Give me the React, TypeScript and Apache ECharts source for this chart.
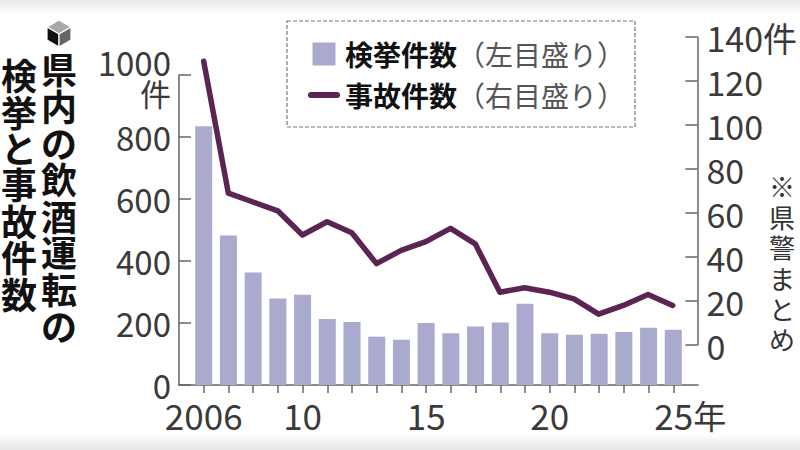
import React, { useEffect, useRef } from "react";
import * as echarts from "echarts";

const YEARS = [2006, 2007, 2008, 2009, 2010, 2011, 2012, 2013, 2014, 2015, 2016, 2017, 2018, 2019, 2020, 2021, 2022, 2023, 2024, 2025];
const ARRESTS = [835, 482, 363, 279, 291, 213, 203, 156, 146, 200, 167, 189, 202, 262, 167, 162, 165, 171, 185, 178];
const ACCIDENTS = [129, 69, 65, 61, 50, 56, 51, 37, 43, 47, 53, 46, 24, 26, 24, 21, 14, 18, 23, 18];
const X_LABEL_YEARS = [2006, 2010, 2015, 2020, 2025];
const SERIES_NAMES = ["検挙件数", "事故件数"];
const LEGEND_NOTES = ["（左目盛り）", "（右目盛り）"];
const TITLE_COL1 = "県内の飲酒運転の";
const TITLE_COL2 = "検挙と事故件数";
const NOTE = "※県警まとめ";
const UNIT = "件";
const YEAR_UNIT = "年";

const FONT = "'Noto Sans CJK JP', 'Noto Sans CJK SC', sans-serif";
const BAR_COLOR = "#a9aacd";
const LINE_COLOR = "#5b2452";
const AXIS_COLOR = "#666";
const LABEL_COLOR = "#3a3a3a";

const vertical = (s: string) => s.split("").join("\n");

export default function App() {
  const ref = useRef<HTMLDivElement>(null);
  useEffect(() => {
    if (!ref.current) return;
    const chart = echarts.init(ref.current, undefined, { renderer: "svg" });
    const xLabel = (v: number) => {
      if (v === 2006) return "2006";
      if (v === 2025) return `{p| }{n|25}{y|${YEAR_UNIT}}`;
      return String(v % 100);
    };
    const option: any = {
      animation: false,
      backgroundColor: "#fff",
      textStyle: { fontFamily: FONT },
      grid: [
        { left: 179, right: 102, top: 75, bottom: 65 },
        { left: 179, right: 102, top: 37, bottom: 105 },
      ],
      xAxis: [
        {
          type: "value",
          gridIndex: 0,
          min: 2005,
          max: 2026,
          interval: 1,
          axisLine: { show: true, lineStyle: { color: AXIS_COLOR, width: 1.5 } },
          axisTick: { show: true, length: 8, lineStyle: { color: AXIS_COLOR, width: 1.5 }, customValues: YEARS },
          splitLine: { show: false },
          axisLabel: {
            customValues: X_LABEL_YEARS,
            formatter: xLabel,
            fontSize: 35,
            fontFamily: FONT,
            color: LABEL_COLOR,
            margin: 12,
            rich: {
              p: { width: 34, fontSize: 35 },
              n: { fontSize: 35, fontFamily: FONT, color: LABEL_COLOR },
              y: { fontSize: 33, fontFamily: FONT, color: LABEL_COLOR },
            },
          },
        },
        {
          type: "value",
          gridIndex: 1,
          min: 2005,
          max: 2026,
          interval: 1,
          show: false,
        },
      ],
      yAxis: [
        {
          type: "value",
          gridIndex: 0,
          position: "left",
          min: 0,
          max: 1000,
          interval: 200,
          axisLine: { show: true, lineStyle: { color: AXIS_COLOR, width: 1.5 } },
          axisTick: { show: true, inside: true, length: 12, lineStyle: { color: AXIS_COLOR, width: 1.5 } },
          splitLine: { show: false },
          axisLabel: {
            fontSize: 33,
            fontFamily: FONT,
            color: LABEL_COLOR,
            margin: 8,
            formatter: (v: number) => (v === 1000 ? `{a|1000}\n{k|${UNIT}}` : String(v)),
            rich: {
              a: { fontSize: 33, fontFamily: FONT, color: LABEL_COLOR, lineHeight: 34, padding: [8, 0, 0, 0] },
              k: { fontSize: 31, fontFamily: FONT, color: LABEL_COLOR, lineHeight: 34 },
            },
          },
        },
        {
          type: "value",
          gridIndex: 1,
          position: "right",
          min: 0,
          max: 140,
          interval: 20,
          axisLine: { show: true, lineStyle: { color: AXIS_COLOR, width: 1.5 } },
          axisTick: { show: true, inside: true, length: 12, lineStyle: { color: AXIS_COLOR, width: 1.5 } },
          splitLine: { show: false },
          axisLabel: {
            fontSize: 34,
            fontFamily: FONT,
            color: LABEL_COLOR,
            margin: 9,
            formatter: (v: number) => (v === 140 ? `140${UNIT}` : String(v)),
          },
        },
      ],
      legend: {
        orient: "vertical",
        left: 308,
        top: 40,
        padding: 0,
        itemGap: 13,
        itemWidth: 32,
        itemHeight: 23,
        data: [
          { name: SERIES_NAMES[0], icon: "path://M0,0H10V10H0Z" },
          { name: SERIES_NAMES[1], icon: "path://M3,0H29A3,3 0 0 1 29,6H3A3,3 0 0 1 3,0Z" },
        ],
        formatter: (name: string) => {
          const i = SERIES_NAMES.indexOf(name);
          return `{b|${name}}{r|${LEGEND_NOTES[i]}}`;
        },
        textStyle: {
          rich: {
            b: { fontSize: 28, fontWeight: "bold", color: "#111", lineHeight: 30, fontFamily: FONT },
            r: { fontSize: 28, color: "#555", lineHeight: 30, fontFamily: FONT },
          },
        },
      },
      series: [
        {
          name: SERIES_NAMES[0],
          type: "bar",
          xAxisIndex: 0,
          yAxisIndex: 0,
          barWidth: 17,
          itemStyle: { color: BAR_COLOR },
          data: YEARS.map((y, i) => [y, ARRESTS[i]]),
        },
        {
          name: SERIES_NAMES[1],
          type: "line",
          xAxisIndex: 1,
          yAxisIndex: 1,
          symbol: "none",
          itemStyle: { color: LINE_COLOR },
          lineStyle: { color: LINE_COLOR, width: 5.5, cap: "round", join: "round" },
          data: YEARS.map((y, i) => [y, ACCIDENTS[i]]),
        },
      ],
      graphic: [
        {
          type: "rect",
          shape: { x: 0, y: 0, width: 800, height: 14 },
          style: {
            fill: new echarts.graphic.LinearGradient(0, 0, 0, 1, [
              { offset: 0, color: "#e9e9e9" },
              { offset: 1, color: "#ffffff" },
            ]),
          },
          silent: true,
          z: -1,
        },
        {
          type: "rect",
          shape: { x: 0, y: 434, width: 800, height: 16 },
          style: {
            fill: new echarts.graphic.LinearGradient(0, 0, 0, 1, [
              { offset: 0, color: "#ffffff" },
              { offset: 1, color: "#e6e6e6" },
            ]),
          },
          silent: true,
          z: -1,
        },
        {
          type: "rect",
          shape: { x: 287, y: 21, width: 348, height: 106 },
          style: { fill: "none", stroke: "#777", lineWidth: 1.2, lineDash: [4, 2] },
          silent: true,
        },
        // cube icon
        {
          type: "polygon",
          shape: { points: [[59, 20], [71, 27], [59, 34], [47, 27]] },
          style: { fill: "#a8a8a8", stroke: "#fff", lineWidth: 1.2 },
        },
        {
          type: "polygon",
          shape: { points: [[47, 27], [59, 34], [59, 47], [47, 40]] },
          style: { fill: "#111", stroke: "#fff", lineWidth: 1.2 },
        },
        {
          type: "polygon",
          shape: { points: [[59, 34], [71, 27], [71, 40], [59, 47]] },
          style: { fill: "#666", stroke: "#fff", lineWidth: 1.2 },
        },
        {
          type: "text",
          style: {
            text: vertical(TITLE_COL1),
            x: 59,
            y: 50,
            align: "center",
            verticalAlign: "top",
            fontSize: 36,
            fontWeight: "bold",
            fontFamily: FONT,
            lineHeight: 36.6,
            fill: "#111",
          },
        },
        {
          type: "text",
          style: {
            text: vertical(TITLE_COL2),
            x: 19,
            y: 56,
            align: "center",
            verticalAlign: "top",
            fontSize: 36,
            fontWeight: "bold",
            fontFamily: FONT,
            lineHeight: 36.4,
            fill: "#111",
          },
        },
        {
          type: "text",
          style: {
            text: vertical(NOTE),
            x: 782,
            y: 170,
            align: "center",
            verticalAlign: "top",
            fontSize: 26,
            fontFamily: FONT,
            lineHeight: 30.7,
            fill: "#333",
          },
        },
      ],
    };
    chart.setOption(option);
    return () => chart.dispose();
  }, []);
  return (
    <div
      ref={ref}
      style={{ position: "absolute", left: 0, top: 0, width: 800, height: 450, background: "#fff" }}
    />
  );
}
